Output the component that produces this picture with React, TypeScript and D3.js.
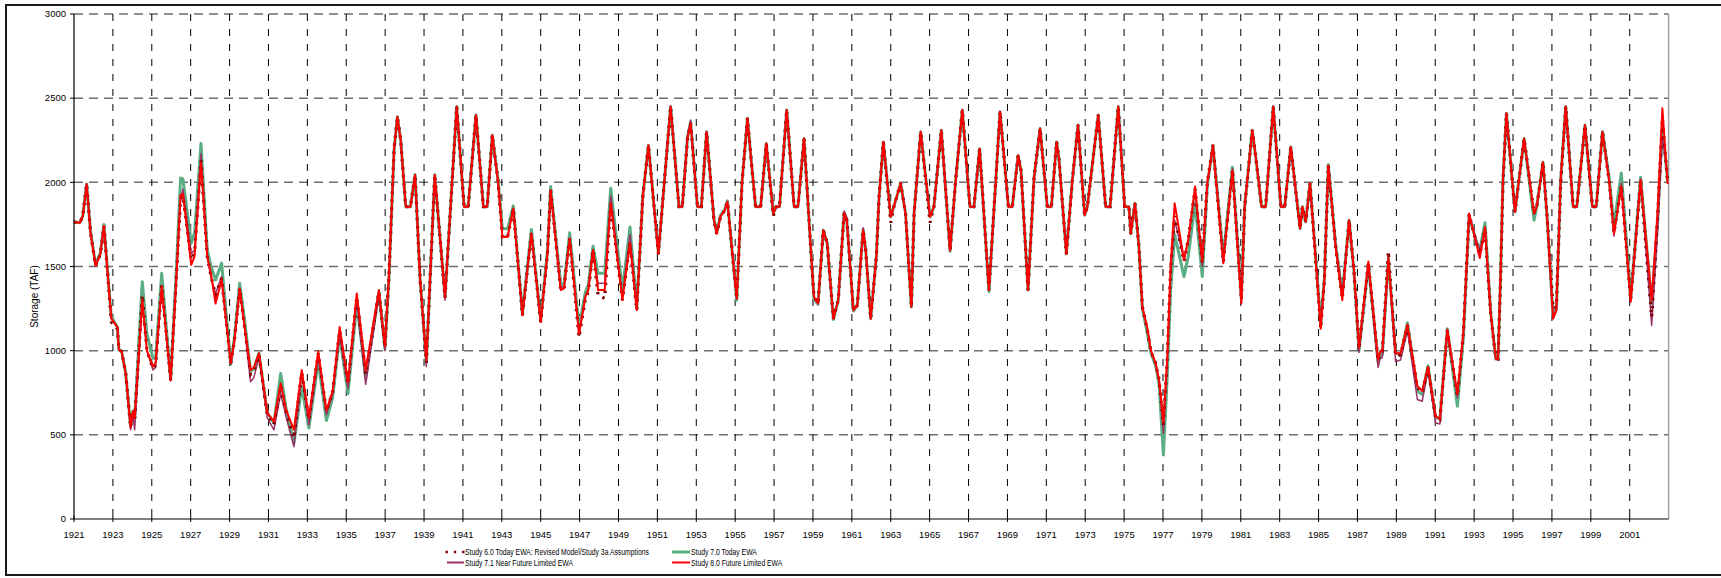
import React from "react";
import * as d3 from "d3";

// decimal years (Oct 1921 = 1921.0)
const years = [
  1921.0, 1921.3, 1921.45, 1921.65, 1921.85, 1922.11, 1922.35, 1922.54, 1922.7, 1922.92,
  1923.23, 1923.31, 1923.45, 1923.66, 1923.91, 1924.03, 1924.12, 1924.51, 1924.75, 1925.06,
  1925.2, 1925.51, 1925.97, 1926.25, 1926.48, 1926.6, 1927.03, 1927.2, 1927.53, 1927.85,
  1928.05, 1928.28, 1928.59, 1929.06, 1929.25, 1929.52, 1929.75, 1930.08, 1930.25, 1930.51,
  1930.94, 1931.28, 1931.63, 1931.9, 1932.31, 1932.71, 1933.08, 1933.56, 1933.98, 1934.3,
  1934.66, 1935.09, 1935.54, 1936.0, 1936.68, 1936.99, 1937.2, 1937.46, 1937.63, 1937.8,
  1938.06, 1938.3, 1938.54, 1938.8, 1939.12, 1939.55, 1940.08, 1940.68, 1941.06, 1941.27,
  1941.67, 1942.05, 1942.25, 1942.51, 1942.8, 1943.03, 1943.3, 1943.59, 1944.06, 1944.52,
  1945.0, 1945.35, 1945.51, 1946.03, 1946.2, 1946.49, 1946.97, 1947.3, 1947.45, 1947.69,
  1947.95, 1948.29, 1948.6, 1949.2, 1949.59, 1949.94, 1950.25, 1950.54, 1951.05, 1951.68,
  1952.11, 1952.28, 1952.55, 1952.71, 1953.06, 1953.26, 1953.53, 1953.91, 1954.05, 1954.25,
  1954.45, 1954.6, 1955.08, 1955.35, 1955.63, 1955.85, 1956.05, 1956.31, 1956.6, 1956.96,
  1957.11, 1957.28, 1957.65, 1958.03, 1958.23, 1958.54, 1958.88, 1959.05, 1959.26, 1959.53,
  1959.73, 1960.05, 1960.3, 1960.6, 1960.74, 1961.08, 1961.28, 1961.58, 1961.71, 1961.97,
  1962.26, 1962.4, 1962.62, 1963.0, 1963.17, 1963.51, 1963.76, 1964.06, 1964.2, 1964.54,
  1965.02, 1965.22, 1965.6, 1966.05, 1966.34, 1966.68, 1967.07, 1967.28, 1967.57, 1968.05,
  1968.62, 1969.05, 1969.25, 1969.55, 1969.7, 1970.06, 1970.37, 1970.68, 1971.05, 1971.26,
  1971.53, 1971.65, 1972.03, 1972.34, 1972.63, 1972.97, 1973.11, 1973.67, 1974.05, 1974.28,
  1974.7, 1975.03, 1975.25, 1975.34, 1975.56, 1975.76, 1975.94, 1976.2, 1976.37, 1976.62,
  1976.8, 1977.02, 1977.22, 1977.39, 1977.6, 1978.08, 1978.3, 1978.65, 1979.02, 1979.28,
  1979.57, 1980.1, 1980.57, 1981.03, 1981.2, 1981.59, 1981.77, 1982.07, 1982.28, 1982.67,
  1983.06, 1983.26, 1983.57, 1984.05, 1984.17, 1984.34, 1984.56, 1984.85, 1985.11, 1985.3,
  1985.5, 1985.88, 1986.22, 1986.57, 1986.82, 1987.08, 1987.56, 1988.06, 1988.16, 1988.28,
  1988.59, 1988.96, 1989.22, 1989.57, 1990.08, 1990.33, 1990.63, 1991.02, 1991.24, 1991.62,
  1992.14, 1992.45, 1992.74, 1993.16, 1993.29, 1993.56, 1993.85, 1994.11, 1994.23, 1994.35,
  1994.48, 1994.66, 1995.1, 1995.57, 1996.08, 1996.22, 1996.54, 1996.76, 1997.06, 1997.23,
  1997.45, 1997.71, 1998.09, 1998.28, 1998.7, 1999.08, 1999.28, 1999.6, 1999.94, 2000.19,
  2000.57, 2001.05, 2001.56, 2002.13, 2002.43, 2002.68, 2002.95,
];

// Study 8.0 Future Limited EWA
const study80 = [
  1765, 1760, 1800, 1990, 1700, 1505, 1570, 1740, 1500, 1190,
  1140, 1005, 995, 865, 545, 640, 600, 1300, 1000, 905,
  930, 1380, 825, 1400, 1925, 1930, 1510, 1560, 2115, 1560,
  1450, 1280, 1420, 925, 1060, 1370, 1160, 885, 900, 985,
  630, 580, 805, 650, 530, 885, 605, 995, 645, 760,
  1140, 815, 1340, 885, 1360, 1025, 1460, 2200, 2390, 2250,
  1855, 1855, 2045, 1420, 945, 2045, 1320, 2450, 1855, 1855,
  2400, 1855, 1855, 2280, 2010, 1675, 1675, 1845, 1210, 1695,
  1170, 1580, 1955, 1360, 1370, 1665, 1100, 1320, 1360, 1600,
  1360, 1360, 1875, 1300, 1640, 1240, 1915, 2220, 1575, 2450,
  1855, 1855, 2260, 2350, 1855, 1855, 2300, 1775, 1695, 1800,
  1830, 1885, 1310, 1995, 2380, 2100, 1855, 1855, 2230, 1815,
  1855, 1855, 2430, 1855, 1855, 2260, 1620, 1320, 1280, 1715,
  1640, 1190, 1300, 1815, 1775, 1240, 1270, 1715, 1600, 1190,
  1560, 1915, 2240, 1795, 1860, 1995, 1815, 1260, 1815, 2300,
  1795, 1855, 2310, 1595, 2015, 2430, 1855, 1855, 2200, 1360,
  2420, 1855, 1855, 2160, 2070, 1360, 2030, 2320, 1855, 1855,
  2240, 2140, 1575, 2015, 2340, 1805, 1855, 2400, 1855, 1855,
  2450, 1855, 1855, 1695, 1875, 1620, 1260, 1130, 1005, 925,
  825, 575, 965, 1500, 1875, 1540, 1660, 1975, 1530, 2000,
  2220, 1520, 2070, 1280, 1855, 2310, 2150, 1855, 1855, 2450,
  1855, 1855, 2210, 1725, 1855, 1765, 1995, 1540, 1130, 1420,
  2100, 1615, 1300, 1775, 1480, 1020, 1530, 945, 990, 1000,
  1550, 985, 985, 1155, 790, 760, 905, 610, 595, 1125,
  745, 1120, 1815, 1615, 1550, 1735, 1220, 955, 950, 1420,
  2015, 2410, 1825, 2260, 1815, 1855, 2120, 1780, 1190, 1240,
  2015, 2450, 1855, 1855, 2340, 1855, 1855, 2300, 2010, 1695,
  1975, 1290, 2015, 1300, 1820, 2440, 1990,
];

// Study 7.0 Today EWA
const study70 = [
  1765, 1760, 1800, 1990, 1710, 1510, 1580, 1750, 1510, 1200,
  1140, 1005, 995, 865, 550, 640, 600, 1410, 1100, 955,
  960, 1460, 830, 1450, 2025, 2020, 1640, 1700, 2230, 1600,
  1500, 1420, 1520, 920, 1080, 1400, 1200, 880, 890, 985,
  630, 570, 865, 660, 450, 785, 540, 935, 585, 720,
  1090, 745, 1280, 840, 1350, 1010, 1440, 2190, 2390, 2250,
  1855, 1855, 2045, 1420, 930, 2045, 1320, 2450, 1855, 1855,
  2400, 1855, 1855, 2280, 2020, 1725, 1725, 1860, 1220, 1720,
  1180, 1600, 1975, 1390, 1400, 1700, 1140, 1350, 1390, 1620,
  1460, 1460, 1965, 1360, 1735, 1260, 1920, 2220, 1580, 2450,
  1855, 1855, 2270, 2360, 1855, 1855, 2300, 1780, 1700, 1805,
  1835, 1890, 1300, 1995, 2380, 2100, 1855, 1855, 2230, 1815,
  1855, 1855, 2430, 1855, 1855, 2260, 1620, 1310, 1275, 1715,
  1640, 1185, 1300, 1820, 1780, 1235, 1270, 1720, 1600, 1190,
  1560, 1915, 2240, 1795, 1860, 1995, 1815, 1260, 1815, 2300,
  1795, 1855, 2310, 1590, 2015, 2430, 1855, 1855, 2200, 1350,
  2420, 1855, 1855, 2160, 2070, 1360, 2030, 2320, 1855, 1855,
  2240, 2140, 1575, 2015, 2340, 1805, 1855, 2400, 1855, 1855,
  2450, 1855, 1855, 1695, 1875, 1620, 1250, 1100, 990, 910,
  800, 380, 850, 1350, 1690, 1440, 1560, 1875, 1440, 1980,
  2220, 1560, 2090, 1320, 1855, 2310, 2150, 1855, 1855, 2450,
  1855, 1855, 2210, 1725, 1855, 1765, 1995, 1560, 1160, 1430,
  2105, 1630, 1330, 1775, 1470, 1000, 1510, 930, 970, 980,
  1550, 990, 970, 1165, 760, 740, 910, 600, 600, 1130,
  670, 1080, 1800, 1630, 1600, 1760, 1230, 950, 950, 1400,
  2000, 2410, 1825, 2260, 1775, 1855, 2120, 1780, 1200, 1250,
  2015, 2450, 1855, 1855, 2340, 1855, 1855, 2300, 2030, 1745,
  2055, 1310, 2030, 1280, 1760, 2330, 2010,
];

// Study 7.1 Near Future Limited EWA
const study71 = [
  1765, 1760, 1800, 1985, 1700, 1505, 1570, 1740, 1500, 1190,
  1140, 1005, 995, 860, 530, 620, 530, 1290, 1000, 885,
  900, 1380, 820, 1400, 1900, 1960, 1575, 1600, 2170, 1560,
  1430, 1340, 1440, 920, 1060, 1360, 1150, 815, 840, 960,
  600, 530, 745, 610, 430, 860, 560, 960, 620, 740,
  1100, 775, 1300, 800, 1330, 1000, 1440, 2190, 2385, 2250,
  1855, 1855, 2045, 1420, 905, 2040, 1300, 2445, 1855, 1855,
  2400, 1855, 1855, 2280, 2010, 1680, 1680, 1845, 1210, 1700,
  1170, 1580, 1950, 1365, 1375, 1670, 1090, 1325, 1365, 1600,
  1400, 1400, 1920, 1320, 1690, 1245, 1915, 2220, 1575, 2450,
  1855, 1855, 2280, 2370, 1855, 1855, 2300, 1775, 1695, 1800,
  1830, 1885, 1305, 1995, 2380, 2100, 1855, 1855, 2230, 1815,
  1855, 1855, 2430, 1855, 1855, 2260, 1620, 1320, 1280, 1715,
  1640, 1190, 1300, 1830, 1790, 1240, 1270, 1730, 1610, 1190,
  1560, 1915, 2240, 1795, 1860, 1995, 1815, 1260, 1815, 2300,
  1795, 1855, 2310, 1595, 2015, 2430, 1855, 1855, 2200, 1360,
  2420, 1855, 1855, 2160, 2070, 1360, 2030, 2320, 1855, 1855,
  2240, 2140, 1575, 2015, 2340, 1805, 1855, 2400, 1855, 1855,
  2450, 1855, 1855, 1695, 1875, 1620, 1260, 1130, 1005, 925,
  820, 510, 930, 1450, 1775, 1540, 1650, 1950, 1500, 1995,
  2220, 1530, 2080, 1320, 1855, 2310, 2150, 1855, 1855, 2450,
  1855, 1855, 2210, 1725, 1855, 1765, 1995, 1555, 1160, 1430,
  2100, 1630, 1340, 1770, 1470, 990, 1510, 900, 950, 960,
  1540, 935, 945, 1120, 710, 700, 880, 570, 565, 1110,
  720, 1100, 1800, 1640, 1600, 1710, 1220, 950, 950, 1410,
  2005, 2410, 1825, 2260, 1810, 1855, 2120, 1780, 1195, 1245,
  2015, 2450, 1855, 1855, 2340, 1855, 1855, 2300, 2010, 1680,
  1995, 1300, 2020, 1150, 1700, 2270, 2030,
];

// Study 6.0 Today EWA: Revised Model/Study 3a Assumptions
const study60 = [
  1765, 1760, 1800, 1990, 1700, 1505, 1570, 1740, 1500, 1170,
  1130, 1005, 995, 865, 545, 640, 590, 1330, 1000, 895,
  915, 1390, 825, 1410, 1900, 1920, 1540, 1580, 2130, 1560,
  1440, 1330, 1430, 925, 1060, 1370, 1160, 860, 880, 975,
  620, 560, 790, 640, 480, 870, 590, 985, 640, 755,
  1120, 800, 1320, 860, 1350, 1020, 1460, 2200, 2390, 2250,
  1855, 1855, 2045, 1420, 930, 2045, 1315, 2450, 1855, 1855,
  2400, 1855, 1855, 2280, 2010, 1675, 1675, 1845, 1210, 1695,
  1170, 1580, 1955, 1360, 1370, 1665, 1080, 1310, 1350, 1600,
  1330, 1310, 1870, 1300, 1640, 1240, 1915, 2220, 1575, 2450,
  1855, 1855, 2260, 2350, 1855, 1855, 2300, 1775, 1695, 1800,
  1830, 1885, 1310, 1995, 2380, 2100, 1855, 1855, 2230, 1800,
  1855, 1855, 2430, 1855, 1855, 2260, 1620, 1320, 1280, 1715,
  1640, 1190, 1300, 1815, 1775, 1240, 1270, 1715, 1600, 1190,
  1560, 1915, 2240, 1760, 1860, 1995, 1815, 1260, 1815, 2300,
  1760, 1855, 2310, 1595, 2015, 2430, 1855, 1855, 2200, 1360,
  2420, 1855, 1855, 2160, 2070, 1360, 2030, 2320, 1855, 1855,
  2240, 2140, 1575, 2015, 2340, 1805, 1855, 2400, 1855, 1855,
  2450, 1855, 1855, 1695, 1875, 1620, 1260, 1120, 1000, 925,
  825, 560, 960, 1480, 1800, 1530, 1660, 1960, 1520, 2000,
  2220, 1525, 2075, 1300, 1855, 2310, 2150, 1855, 1855, 2450,
  1855, 1855, 2210, 1725, 1855, 1765, 1995, 1540, 1130, 1420,
  2100, 1615, 1310, 1775, 1480, 1010, 1520, 940, 985, 995,
  1590, 970, 975, 1150, 780, 750, 900, 600, 590, 1120,
  730, 1110, 1810, 1620, 1570, 1720, 1220, 955, 950, 1380,
  1990, 2410, 1825, 2260, 1815, 1855, 2120, 1780, 1250, 1260,
  1990, 2450, 1855, 1855, 2340, 1855, 1855, 2300, 2010, 1700,
  1980, 1300, 2010, 1200, 1780, 2380, 2000,
];

const yTickValues = [0, 500, 1000, 1500, 2000, 2500, 3000];
const xTickLabels = [
  "1921", "1923", "1925", "1927", "1929", "1931", "1933", "1935", "1937", "1939",
  "1941", "1943", "1945", "1947", "1949", "1951", "1953", "1955", "1957", "1959",
  "1961", "1963", "1965", "1967", "1969", "1971", "1973", "1975", "1977", "1979",
  "1981", "1983", "1985", "1987", "1989", "1991", "1993", "1995", "1997", "1999", "2001",
];
const seriesLabels = [
  "Study 6.0 Today EWA: Revised Model/Study 3a Assumptions",
  "Study 7.0 Today EWA",
  "Study 7.1 Near Future Limited EWA",
  "Study 8.0 Future Limited EWA",
];
const yAxisTitle = "Storage (TAF)";

const W = 1721;
const H = 578;
const L = 74, R = 1668.6, T = 14, B = 519;
const FONT = "'Liberation Sans', Arial, sans-serif";
const LEGEND_SX = 0.758;

export default function App() {
  const x = d3.scaleLinear().domain([1921, 2003]).range([L, R]);
  const y = d3.scaleLinear().domain([0, 3000]).range([B, T]);
  const line = d3
    .line<number>()
    .x((_, i) => x(years[i]))
    .y((v) => y(v));

  const styles = {
    s60: { stroke: "#800000", width: 3.2, dash: "2.4,5.6" },
    s70: { stroke: "#5bad84", width: 3 },
    s71: { stroke: "#993366", width: 1.5 },
    s80: { stroke: "#ff0000", width: 2 },
  };

  const legendText = (label: string, lx: number, ly: number) => (
    <text transform={`translate(${lx},${ly}) scale(${LEGEND_SX},1)`} fontFamily={FONT} fontSize={9} fill="#000">
      {label}
    </text>
  );

  return (
    <div style={{ position: "absolute", left: 0, top: 0 }}>
      <svg width={W} height={H} style={{ display: "block", background: "#fff" }}>
        {/* outer frame */}
        <rect x={6} y={5} width={1800} height={570} fill="none" stroke="#1a1a1a" strokeWidth={2} />

        {/* horizontal gridlines */}
        {yTickValues.filter((v) => v > 0).map((v) => (
          <line key={"hg" + v} x1={L} x2={R} y1={y(v)} y2={y(v)} stroke="#6e6e6e" strokeWidth={1.5} strokeDasharray="9,6" />
        ))}
        {/* vertical gridlines */}
        {xTickLabels.slice(1).map((lab) => (
          <line key={"vg" + lab} x1={x(+lab)} x2={x(+lab)} y1={T} y2={B} stroke="#000" strokeWidth={1} strokeDasharray="7,8" />
        ))}
        {/* right border */}
        <line x1={R} x2={R} y1={T} y2={B} stroke="#a0a0a0" strokeWidth={1.5} />

        {/* series */}
        <path d={line(study70) || ""} fill="none" stroke={styles.s70.stroke} strokeWidth={styles.s70.width} strokeLinejoin="round" />
        <path d={line(study71) || ""} fill="none" stroke={styles.s71.stroke} strokeWidth={styles.s71.width} strokeLinejoin="round" />
        <path d={line(study60) || ""} fill="none" stroke={styles.s60.stroke} strokeWidth={styles.s60.width} strokeDasharray={styles.s60.dash} />
        <path d={line(study80) || ""} fill="none" stroke={styles.s80.stroke} strokeWidth={styles.s80.width} strokeLinejoin="round" />

        {/* axes */}
        <line x1={L} x2={L} y1={T} y2={B} stroke="#000" strokeWidth={1.2} />
        <line x1={L} x2={R} y1={B} y2={B} stroke="#000" strokeWidth={1.2} />
        {yTickValues.map((v) => (
          <g key={"yt" + v}>
            <line x1={L - 4} x2={L} y1={y(v)} y2={y(v)} stroke="#000" strokeWidth={1} />
            <text x={L - 8} y={y(v)} dy="0.35em" textAnchor="end" fontFamily={FONT} fontSize={9.5} fill="#000">
              {v}
            </text>
          </g>
        ))}
        {xTickLabels.map((lab) => (
          <g key={"xt" + lab}>
            <line x1={x(+lab)} x2={x(+lab)} y1={B - 3} y2={B + 3} stroke="#000" strokeWidth={1} />
            <text x={x(+lab)} y={538} textAnchor="middle" fontFamily={FONT} fontSize={9.5} fill="#000">
              {lab}
            </text>
          </g>
        ))}
        <text
          transform={`translate(38,${(T + B) / 2 + 30}) rotate(-90)`}
          textAnchor="middle"
          fontFamily={FONT}
          fontSize={10}
          fill="#000"
        >
          {yAxisTitle}
        </text>

        {/* legend */}
        <g>
          <line x1={445.5} x2={465} y1={552} y2={552} stroke={styles.s60.stroke} strokeWidth={2.6} strokeDasharray="2.4,5.9" />
          {legendText(seriesLabels[0], 465, 555)}
          <line x1={672} x2={690} y1={552} y2={552} stroke={styles.s70.stroke} strokeWidth={3} />
          {legendText(seriesLabels[1], 691, 555)}
          <line x1={447} x2={464} y1={562.5} y2={562.5} stroke={styles.s71.stroke} strokeWidth={2} />
          {legendText(seriesLabels[2], 465, 565.5)}
          <line x1={672} x2={690} y1={562.5} y2={562.5} stroke={styles.s80.stroke} strokeWidth={2} />
          {legendText(seriesLabels[3], 691, 565.5)}
        </g>
      </svg>
    </div>
  );
}
